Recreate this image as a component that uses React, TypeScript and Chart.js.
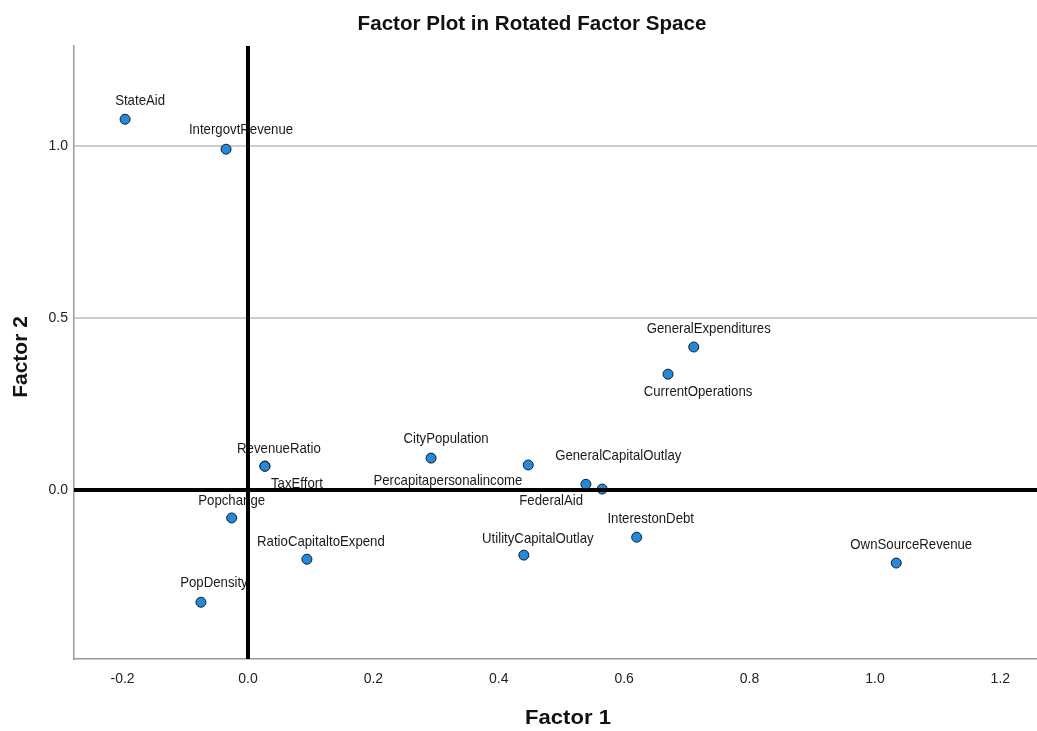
import React, { useEffect, useRef } from "react";
import { Chart, registerables } from "chart.js";

Chart.register(...registerables);

const variableNames: string[] = [
  "StateAid",
  "IntergovtRevenue",
  "GeneralExpenditures",
  "CurrentOperations",
  "RevenueRatio",
  "TaxEffort",
  "Popchange",
  "CityPopulation",
  "GeneralCapitalOutlay",
  "Percapitapersonalincome",
  "FederalAid",
  "InterestonDebt",
  "UtilityCapitalOutlay",
  "RatioCapitaltoExpend",
  "OwnSourceRevenue",
  "PopDensity",
];

const factor1Loadings: number[] = [
  -0.196, -0.035, 0.711, 0.67, 0.027, 0.027, -0.026, 0.292, 0.447, 0.539, 0.565, 0.62, 0.44, 0.094,
  1.034, -0.075,
];

const factor2Loadings: number[] = [
  1.078, 0.991, 0.416, 0.337, 0.07, 0.069, -0.081, 0.093, 0.073, 0.017, 0.003, -0.137, -0.189, -0.201,
  -0.212, -0.326,
];

// label placement (layout only), pixel offset of label centre from its point
const labelOffsets: [number, number][] = [
  [15, -18],
  [15, -19],
  [15, -18],
  [30, 18],
  [14, -17],
  [32, 17],
  [0, -17],
  [15, -19],
  [90, -9],
  [-138, -3],
  [-51, 12],
  [14, -18],
  [14, -16],
  [14, -17],
  [15, -18],
  [13, -19],
];

const chartTitle = "Factor Plot in Rotated Factor Space";
const xAxisTitle = "Factor 1";
const yAxisTitle = "Factor 2";
const xTickStep = 0.2;
const yTickStep = 0.5;

const FONT = "'Liberation Sans', Arial, Helvetica, sans-serif";

function fmt(v: number): string {
  if (Math.abs(v) < 1e-9) return "0.0";
  return Number(v).toFixed(1);
}

function drawCondensed(
  ctx: CanvasRenderingContext2D,
  text: string,
  x: number,
  y: number,
  font: string,
  sx: number
) {
  ctx.save();
  ctx.font = font;
  ctx.textAlign = "center";
  ctx.textBaseline = "middle";
  ctx.translate(x, y);
  ctx.scale(sx, 1);
  ctx.fillText(text, 0, 0);
  ctx.restore();
}

const overlayPlugin = {
  id: "factorOverlay",
  afterDatasetsDraw(chart: any) {
    const ctx: CanvasRenderingContext2D = chart.ctx;
    const xs = chart.scales.x;
    const ys = chart.scales.y;
    const area = chart.chartArea;
    // point labels
    ctx.save();
    ctx.fillStyle = "#1a1a1a";
    const meta = chart.getDatasetMeta(0);
    meta.data.forEach((pt: any, i: number) => {
      const off = labelOffsets[i] || [0, -18];
      drawCondensed(ctx, variableNames[i], pt.x + off[0], pt.y + off[1], `15px ${FONT}`, 0.88);
    });
    ctx.restore();
    // zero reference lines
    ctx.save();
    ctx.strokeStyle = "#000";
    ctx.lineWidth = 4;
    const x0 = xs.getPixelForValue(0);
    const y0 = ys.getPixelForValue(0);
    ctx.beginPath();
    ctx.moveTo(x0, area.top);
    ctx.lineTo(x0, area.bottom);
    ctx.stroke();
    ctx.beginPath();
    ctx.moveTo(area.left, y0);
    ctx.lineTo(area.right, y0);
    ctx.stroke();
    ctx.restore();
  },
  afterDraw(chart: any) {
    const ctx: CanvasRenderingContext2D = chart.ctx;
    ctx.save();
    ctx.fillStyle = "#111";
    drawCondensed(ctx, chartTitle, 532, 24, `bold 21px ${FONT}`, 0.98);
    drawCondensed(ctx, xAxisTitle, 568, 718, `bold 21px ${FONT}`, 1.05);
    ctx.translate(21, 357);
    ctx.rotate(-Math.PI / 2);
    drawCondensed(ctx, yAxisTitle, 0, 0, `bold 21px ${FONT}`, 1.0);
    ctx.restore();
  },
};

export default function App() {
  const canvasRef = useRef<HTMLCanvasElement | null>(null);

  useEffect(() => {
    if (!canvasRef.current) return;
    const points = factor1Loadings.map((x, i) => ({ x, y: factor2Loadings[i] }));
    const chart = new Chart(canvasRef.current, {
      type: "scatter",
      data: {
        datasets: [
          {
            label: "Loadings",
            data: points,
            pointRadius: 5,
            pointBorderWidth: 1,
            pointBorderColor: "#1b1b1b",
            pointBackgroundColor: "#1e8ae3",
            clip: false as any,
          },
        ],
      },
      options: {
        responsive: false,
        animation: false,
        devicePixelRatio: 1,
        layout: { autoPadding: false, padding: { top: 46, left: 0, right: 0, bottom: 0 } },
        plugins: {
          legend: { display: false },
          title: { display: false },
          tooltip: { enabled: false },
        },
        scales: {
          x: {
            type: "linear",
            min: -0.2775,
            max: 1.2585,
            grid: { display: false, drawTicks: false },
            border: { display: true, color: "#9a9a9a", width: 1.5 },
            ticks: {
              stepSize: xTickStep,
              includeBounds: false,
              autoSkip: false,
              maxRotation: 0,
              padding: 12,
              color: "#222",
              font: { family: FONT, size: 14 },
              callback: (v: any) => fmt(Number(v)),
            },
            afterFit: (scale: any) => {
              scale.height = 72;
              scale.paddingLeft = 0;
              scale.paddingRight = 0;
            },
          },
          y: {
            type: "linear",
            min: -0.491,
            max: 1.291,
            grid: {
              drawTicks: false,
              lineWidth: 2,
              color: (c: any) =>
                c.tick && Math.abs(c.tick.value) < 1e-9 ? "rgba(0,0,0,0)" : "#cdcdcd",
            },
            border: { display: true, color: "#9a9a9a", width: 1.5 },
            ticks: {
              stepSize: yTickStep,
              includeBounds: false,
              autoSkip: false,
              padding: 6,
              color: "#222",
              font: { family: FONT, size: 14 },
              callback: (v: any) => fmt(Number(v)),
            },
            afterFit: (scale: any) => {
              scale.width = 74;
              scale.paddingTop = 0;
              scale.paddingBottom = 0;
            },
          },
        },
      },
      plugins: [overlayPlugin],
    });
    return () => chart.destroy();
  }, []);

  return (
    <div style={{ position: "fixed", left: 0, top: 0, width: 1037, height: 731, background: "#fff" }}>
      <canvas ref={canvasRef} width={1037} height={731} />
    </div>
  );
}
